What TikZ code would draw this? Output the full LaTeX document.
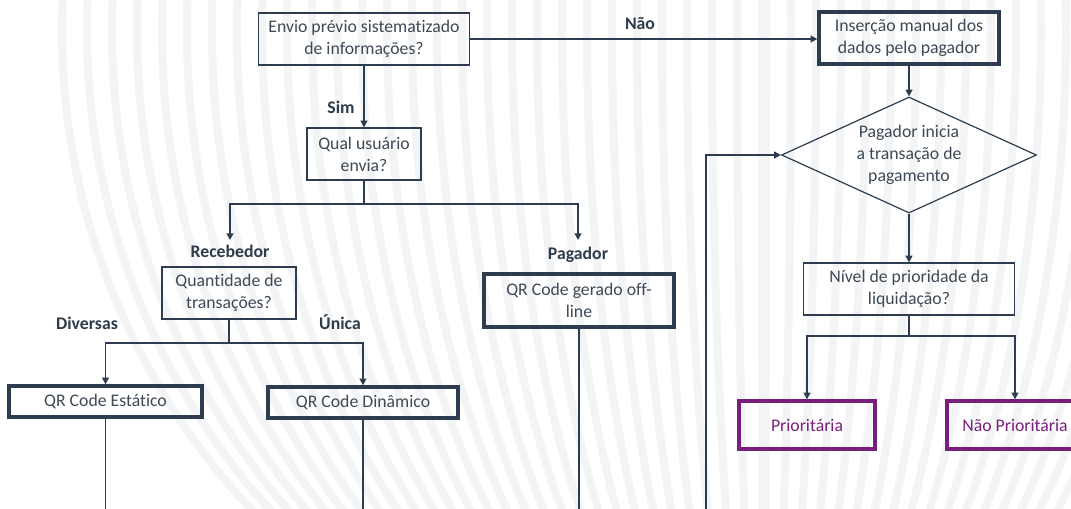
\documentclass[tikz,border=0pt]{standalone}
\usepackage{fontspec}
\setmainfont{Carlito}[Ligatures={NoCommon}]
\usetikzlibrary{arrows.meta,shapes.geometric}

\definecolor{linec}{RGB}{45,61,79}
\definecolor{boxtext}{RGB}{62,73,85}
\definecolor{lbltext}{RGB}{46,60,75}
\definecolor{prio}{RGB}{122,30,124}
\definecolor{stripec}{RGB}{242,244,246}

\tikzset{
  basefont/.style={font=\fontsize{13.3}{16.5}\selectfont},
  txt/.style={basefont, text=boxtext, align=center, inner sep=2pt},
  thinbox/.style={txt, draw=linec, line width=0.9pt, rectangle},
  thickbox/.style={txt, draw=linec, line width=2.5pt, rectangle},
  purplebox/.style={txt, draw=prio, text=prio, line width=2.5pt, rectangle},
  lbl/.style={font=\fontsize{13.3}{16.5}\selectfont\bfseries, text=lbltext, anchor=base, inner sep=0pt},
  wire/.style={draw=linec, line width=1.3pt},
  conn/.style={wire, -{Triangle[length=5pt,width=5pt]}},
  stripe/.style={draw=stripec, line width=6pt},
}

\begin{document}
\begin{tikzpicture}[x=0.75pt,y=-0.75pt]
\useasboundingbox (0,0) rectangle (1071,508);
\fill[white] (0,0) rectangle (1071,508);

% faint globe meridians in the background
\begin{scope}
  \clip (0,0) rectangle (1071,508);
  \foreach \k in {0,...,28}{
    \pgfmathsetmacro\rx{(702-25*\k)*0.75}
    \draw[stripe] (764,30) ellipse [x radius=\rx pt, y radius=526.5pt];
  }
\end{scope}

% boxes
\node[thinbox, minimum width=158.25pt, minimum height=39pt] (env) at (364,39) {Envio prévio sistematizado\\de informações?};
\node[thickbox, minimum width=135pt, minimum height=39pt] (ins) at (909,38) {Inserção manual dos\\dados pelo pagador};
\node[diamond, draw=linec, line width=0.9pt, minimum width=191.25pt, minimum height=87pt, inner sep=0pt] (dia) at (909,155) {};
\node[txt] (diatxt) at (dia.center) {Pagador inicia\\a transação de\\pagamento};
\node[thinbox, minimum width=158.25pt, minimum height=39pt] (niv) at (909,289) {Nível de prioridade da\\liquidação?};
\node[purplebox, minimum width=102pt, minimum height=36pt] (pri) at (807,425) {Prioritária};
\node[purplebox, minimum width=102pt, minimum height=36pt] (nao) at (1015,425) {Não Prioritária};
\node[thinbox, minimum width=85.5pt, minimum height=39pt] (qual) at (364,154) {Qual usuário\\envia?};
\node[thinbox, minimum width=100.5pt, minimum height=39pt] (qtd) at (229,293) {Quantidade de\\transações?};
\node[thickbox, minimum width=144.75pt, minimum height=23.25pt] (est) at (105.5,401.5) {QR Code Estático};
\node[thickbox, minimum width=142.5pt, minimum height=23.25pt] (din) at (363,402.5) {QR Code Dinâmico};
\node[thickbox, minimum width=142.5pt, minimum height=39.75pt] (off) at (579,300.5) {QR Code gerado off-\\line};

% branch labels
\node[lbl] (lnao) at (640,29.5) {Não};
\node[lbl] (lsim) at (341,113) {Sim};
\node[lbl] (lrec) at (230,257) {Recebedor};
\node[lbl] (lpag) at (578,259) {Pagador};
\node[lbl] (ldiv) at (87,329) {Diversas};
\node[lbl] (luni) at (340,329) {Única};

% junction and open-end points
\coordinate (qsplit) at (364,204);
\coordinate (recv) at (230,240);
\coordinate (pagc) at (578,240);
\coordinate (tsplit) at (229,343);
\coordinate (nsplit) at (909,336);
\coordinate (estend) at (105.5,510);
\coordinate (dinend) at (363,510);
\coordinate (offend) at (579,510);
\coordinate (loopstart) at (706,510);

% connectors
\draw[conn] (env.east) -- (env.east -| ins.west);
\draw[conn] (env.south) -- (qual.north);
\draw[wire] (qual.south) -- (qsplit);
\draw[conn] (qsplit) -| (recv);
\draw[conn] (qsplit) -| (pagc);
\draw[wire] (qtd.south) -- (tsplit);
\draw[conn] (tsplit) -| (est.north);
\draw[conn] (tsplit) -| (din.north);
\draw[wire] (est.south) -- (estend);
\draw[wire] (din.south) -- (dinend);
\draw[wire] (off.south) -- (offend);
\draw[conn] (loopstart) |- (dia.west);
\draw[conn] (ins.south) -- (dia.north);
\draw[conn] (dia.south) -- (niv.north);
\draw[wire] (niv.south) -- (nsplit);
\draw[conn] (nsplit) -| (pri.north);
\draw[conn] (nsplit) -| (nao.north);
\end{tikzpicture}
\end{document}
